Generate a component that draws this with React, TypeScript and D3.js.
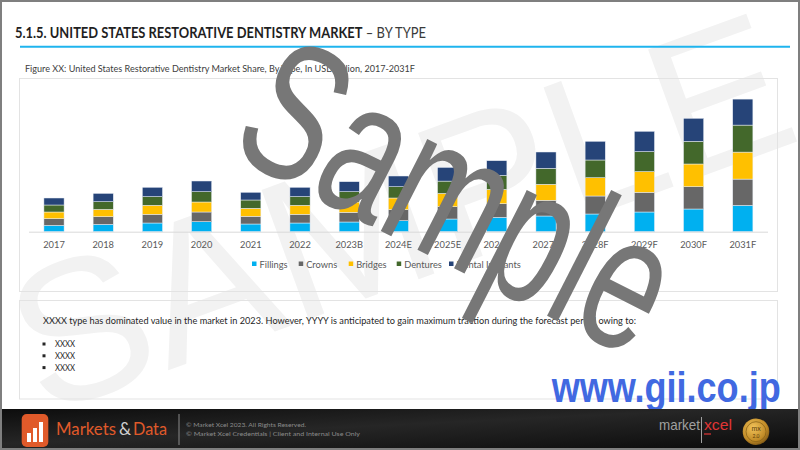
import React from "react";
import * as d3 from "d3";

const years = ["2017", "2018", "2019", "2020", "2021", "2022", "2023B", "2024E", "2025E", "2026F", "2027F", "2028F", "2029F", "2030F", "2031F"];
const fillings = [0.63, 0.73, 0.87, 1.0, 0.77, 0.87, 0.97, 1.1, 1.27, 1.43, 1.57, 1.77, 1.97, 2.27, 2.63];
const crowns = [0.67, 0.77, 0.87, 0.97, 0.77, 0.87, 0.97, 1.1, 1.23, 1.37, 1.57, 1.8, 1.97, 2.23, 2.63];
const bridges = [0.67, 0.73, 0.9, 1.0, 0.8, 0.9, 1.03, 1.17, 1.33, 1.43, 1.6, 1.83, 2.07, 2.27, 2.7];
const dentures = [0.7, 0.77, 0.87, 1.03, 0.83, 0.87, 1.03, 1.13, 1.23, 1.4, 1.6, 1.77, 2.0, 2.27, 2.7];
const implants = [0.7, 0.83, 0.93, 1.07, 0.77, 0.93, 1.0, 1.07, 1.37, 1.47, 1.63, 1.87, 2.03, 2.3, 2.6];

const seriesNames = ["Fillings", "Crowns", "Bridges", "Dentures", "Dental Implants"];
const seriesColors = ["#00B0F0", "#676767", "#FFC000", "#43682B", "#264478"];
const bullets = ["XXXX", "XXXX", "XXXX"];

const FONT = "Lato, 'Open Sans', sans-serif";
const ARIAL = "'Liberation Sans', Arial, sans-serif";

export default function App() {
  const rows = years.map((y, i) => ({
    year: y,
    Fillings: fillings[i],
    Crowns: crowns[i],
    Bridges: bridges[i],
    Dentures: dentures[i],
    "Dental Implants": implants[i],
  }));
  const stacked = d3.stack<any>().keys(seriesNames)(rows);

  const baseY = 231.7;
  const x = d3.scaleBand<string>().domain(years).range([29.4, 767.4]).paddingInner(0.59).paddingOuter(0.295);
  const y = d3.scaleLinear().domain([0, 16]).range([baseY, baseY - 160]);

  const legendX = [252, 298.7, 348.7, 396.7, 449];

  return (
    <svg width={800} height={450} style={{ position: "absolute", left: 0, top: 0, background: "#fff" }} fontFamily={FONT}>
      <defs>
        <linearGradient id="foot" x1="0" x2="1" y1="0" y2="1">
          <stop offset="0" stopColor="#0d0d0d" />
          <stop offset="0.45" stopColor="#262626" />
          <stop offset="0.7" stopColor="#1a1a1a" />
          <stop offset="1" stopColor="#0b0b0b" />
        </linearGradient>
        <radialGradient id="gold" cx="0.4" cy="0.35" r="0.7">
          <stop offset="0" stopColor="#f2c35a" />
          <stop offset="0.7" stopColor="#c08a26" />
          <stop offset="1" stopColor="#7a5414" />
        </radialGradient>
        <clipPath id="page">
          <rect x={0} y={0} width={800} height={409} />
        </clipPath>
      </defs>
      <rect x={0} y={0} width={800} height={450} fill="#fff" />

      {/* faint background watermark */}
      <g clipPath="url(#page)">
        <text
          transform="translate(400,212) rotate(-20)"
          textAnchor="middle"
          dominantBaseline="central"
          fontFamily={ARIAL}
          fontSize={200}
          fill="#f2f2f2"
        >
          SAMPLE
        </text>
      </g>

      {/* Title */}
      <text x={15} y={38} fontSize={14.5} fill="#3a3a3a" textLength={411} lengthAdjust="spacingAndGlyphs">
        <tspan fontWeight={700} fill="#1f1f1f">5.1.5. UNITED STATES RESTORATIVE DENTISTRY MARKET</tspan>
        <tspan> – BY TYPE</tspan>
      </text>
      <line x1={20} x2={790} y1={46.8} y2={46.8} stroke="#1FB4EE" strokeWidth={2} />

      <text x={25} y={71.5} fontSize={9.2} fill="#404040" textLength={390} lengthAdjust="spacingAndGlyphs">
        Figure XX: United States Restorative Dentistry Market Share, By Type, In USD Billion, 2017-2031F
      </text>

      {/* chart box */}
      <rect x={19.5} y={78.5} width={758} height={213} fill="none" stroke="#e3e3e3" strokeWidth={1} />

      {/* bars */}
      {stacked.map((s, si) => (
        <g key={s.key} fill={seriesColors[si]}>
          {s.map((d, i) => (
            <rect
              key={i}
              x={x(years[i])}
              y={y(d[1])}
              width={x.bandwidth()}
              height={y(d[0]) - y(d[1])}
              stroke="#e9eef5"
              strokeWidth={0.5}
            />
          ))}
        </g>
      ))}
      <line x1={29} x2={768} y1={baseY + 0.5} y2={baseY + 0.5} stroke="#d9d9d9" strokeWidth={1} />
      {years.map((yr) => (
        <text key={yr} x={(x(yr) as number) + x.bandwidth() / 2} y={248} fontSize={9.3} fill="#595959" textAnchor="middle">
          {yr}
        </text>
      ))}

      {/* legend */}
      {seriesNames.map((n, i) => (
        <g key={n}>
          <rect x={legendX[i]} y={261.5} width={4.5} height={4.5} fill={seriesColors[i]} />
          <text x={legendX[i] + 7.5} y={268} fontSize={9.3} fill="#595959">
            {n}
          </text>
        </g>
      ))}

      {/* text box */}
      <rect x={19.5} y={300.5} width={758} height={98.5} fill="none" stroke="#e3e3e3" strokeWidth={1} />
      <text x={43} y={323.5} fontSize={9.3} fill="#262626" textLength={593} lengthAdjust="spacingAndGlyphs">
        XXXX type has dominated value in the market in 2023. However, YYYY is anticipated to gain maximum traction during the forecast period owing to:
      </text>
      {bullets.map((b, i) => (
        <g key={i}>
          <rect x={42.5} y={342.5 + i * 11.8} width={3} height={3} fill="#262626" />
          <text x={55} y={347.3 + i * 11.8} fontSize={9.3} fill="#262626" textLength={20} lengthAdjust="spacingAndGlyphs">
            {b}
          </text>
        </g>
      ))}

      {/* Sample watermark */}
      <text
        transform="translate(460,195) rotate(27) scale(0.69,1)"
        textAnchor="middle"
        dominantBaseline="central"
        fontFamily={ARIAL}
        fontSize={195}
        fill="#777777"
      >
        Sample
      </text>

      {/* www.gii.co.jp */}
      <text x={551.7} y={401.7} fontFamily={ARIAL} fontWeight={700} fontSize={43} fill="#4169E1" textLength={229} lengthAdjust="spacingAndGlyphs">
        www.gii.co.jp
      </text>

      {/* footer */}
      <rect x={0} y={409} width={800} height={39} fill="url(#foot)" />
      <rect x={21.7} y={414} width={26.6} height={33} rx={5} fill="#E05A2A" />
      <rect x={27} y={433} width={4} height={9} fill="#fff" />
      <rect x={33} y={428} width={4} height={14} fill="#fff" />
      <rect x={39} y={422} width={4} height={20} fill="#fff" />
      <text x={56} y={435} fontSize={17} fill="#E05A2A" textLength={60} lengthAdjust="spacingAndGlyphs">
        Markets
      </text>
      <text x={119} y={435} fontSize={17} fill="#cfcfcf">
        &amp;
      </text>
      <text x={133} y={435} fontSize={17} fill="#E05A2A" textLength={34} lengthAdjust="spacingAndGlyphs">
        Data
      </text>
      <line x1={179} x2={179} y1={414} y2={445} stroke="#8a8a8a" strokeWidth={1} />
      <text x={186} y={427} fontSize={6} fill="#8c8c8c" textLength={120} lengthAdjust="spacingAndGlyphs">
        © Market Xcel 2023. All Rights Reserved.
      </text>
      <text x={186} y={436} fontSize={6} fill="#8c8c8c" textLength={174} lengthAdjust="spacingAndGlyphs">
        © Market Xcel Credentials | Client and Internal Use Only
      </text>
      <text x={659} y={430} fontFamily={ARIAL} fontSize={15} fill="#a0a0a0" textLength={41} lengthAdjust="spacingAndGlyphs">
        market
      </text>
      <line x1={701.5} x2={701.5} y1={417} y2={443} stroke="#a0a0a0" strokeWidth={1} />
      <text x={704} y={430} fontFamily={ARIAL} fontSize={15} fill="#E03535" textLength={28} lengthAdjust="spacingAndGlyphs">
        xcel
      </text>
      <line x1={704} x2={711} y1={434} y2={434} stroke="#E03535" strokeWidth={1.2} />
      <circle cx={756} cy={431.7} r={13.3} fill="url(#gold)" />
      <circle cx={756} cy={431.7} r={10} fill="none" stroke="#8a6318" strokeWidth={0.8} />
      <text x={756} y={431} fontSize={7} fill="#5a3c08" textAnchor="middle">mx</text>
      <text x={756} y={438} fontSize={5} fill="#5a3c08" textAnchor="middle">2.0</text>

      {/* outer border */}
      <rect x={1} y={1} width={798} height={448} fill="none" stroke="#7f7f7f" strokeWidth={2} />
    </svg>
  );
}
